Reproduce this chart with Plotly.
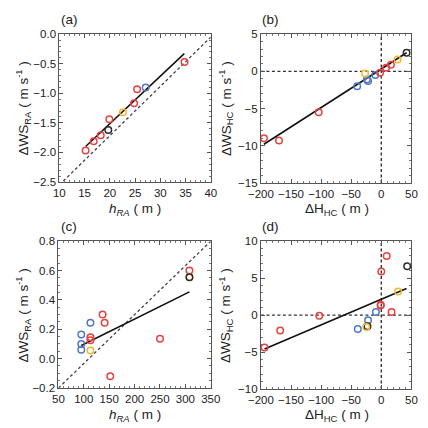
import plotly.graph_objects as go

RED = "#e8413f"
BLUE = "#4f78c4"
YEL = "#f2b731"
BLK = "#2a2a2a"

# Panel (a): h_RA vs dWS_RA
a_x = [15.2, 16.8, 18.2, 19.9, 24.8, 25.4, 34.8, 19.7, 22.6, 27.1]
a_y = [-1.97, -1.81, -1.71, -1.44, -1.17, -0.93, -0.47, -1.62, -1.32, -0.90]
a_c = ["r", "r", "r", "r", "r", "r", "r", "k", "y", "b"]
a_fit_x = [15.2, 34.75]
a_fit_y = [-1.90, -0.33]
a_ref_x = [10, 40]
a_ref_y = [-2.55, -0.05]

# Panel (b): dH_HC vs dWS_HC
b_x = [-195, -170, -104, -40, -24, -22, -10, -2, 8, 16, -27, 27, 42]
b_y = [-9.0, -9.3, -5.5, -2.0, -1.1, -1.3, -0.5, -0.2, 0.5, 0.9, -0.3, 1.6, 2.5]
b_c = ["r", "r", "r", "b", "b", "b", "b", "r", "r", "r", "y", "y", "k"]
b_fit_x = [-195, 42]
b_fit_y = [-9.8, 2.5]

# Panel (c): h_RA vs dWS_RA
c_x = [95, 95, 95, 113, 113, 113, 137, 141, 152, 250, 308, 113, 308, 308]
c_y = [0.165, 0.10, 0.06, 0.245, 0.145, 0.125, 0.30, 0.245, -0.12, 0.135, 0.60, 0.055, 0.555, 0.555]
c_c = ["b", "b", "b", "b", "r", "r", "r", "r", "r", "r", "r", "y", "y", "k"]
c_fit_x = [95, 308]
c_fit_y = [0.09, 0.455]
c_ref_x = [50, 350]
c_ref_y = [-0.2, 0.8]

# Panel (d): dH_HC vs dWS_HC
d_x = [-194, -168, -103, -39, -22, -9, -1, -1, 0, 9, 17, -23, -25, 28, 43]
d_y = [-4.4, -2.1, -0.1, -1.9, -0.7, 0.4, 1.3, 1.4, 5.9, 8.0, 0.4, -1.5, -1.6, 3.2, 6.6]
d_c = ["r", "r", "r", "b", "b", "b", "r", "r", "r", "r", "r", "k", "y", "y", "k"]
d_fit_x = [-194, 42]
d_fit_y = [-4.6, 3.6]

COL = {"r": RED, "b": BLUE, "y": YEL, "k": BLK}

fig = go.Figure()
DASH = "3px,2.5px"

def add_panel(n, xs, ys, cs, fx, fy, refx=None, refy=None, xr=None, yr=None):
    xa = "x" if n == 1 else f"x{n}"
    ya = "y" if n == 1 else f"y{n}"
    if refx is not None:
        fig.add_trace(go.Scatter(x=refx, y=refy, mode="lines", xaxis=xa, yaxis=ya,
                                 line=dict(color="#444", width=1.3, dash=DASH), showlegend=False))
    else:
        fig.add_trace(go.Scatter(x=[0, 0], y=yr, mode="lines", xaxis=xa, yaxis=ya,
                                 line=dict(color="#333", width=1.4, dash=DASH), showlegend=False))
        fig.add_trace(go.Scatter(x=xr, y=[0, 0], mode="lines", xaxis=xa, yaxis=ya,
                                 line=dict(color="#333", width=1.4, dash=DASH), showlegend=False))
    fig.add_trace(go.Scatter(x=fx, y=fy, mode="lines", xaxis=xa, yaxis=ya,
                             line=dict(color="#111", width=1.6), showlegend=False))
    fig.add_trace(go.Scatter(x=xs, y=ys, mode="markers", xaxis=xa, yaxis=ya, showlegend=False,
                             marker=dict(symbol="circle-open", size=6.5,
                                         color=[COL[c] for c in cs],
                                         line=dict(width=1.5, color=[COL[c] for c in cs]))))

add_panel(1, a_x, a_y, a_c, a_fit_x, a_fit_y, a_ref_x, a_ref_y)
add_panel(2, b_x, b_y, b_c, b_fit_x, b_fit_y, xr=[-200, 50], yr=[-15, 5])
add_panel(3, c_x, c_y, c_c, c_fit_x, c_fit_y, c_ref_x, c_ref_y)
add_panel(4, d_x, d_y, d_c, d_fit_x, d_fit_y, xr=[-200, 50], yr=[-10, 10])

W = 428
def px(v):
    return v / W
def py(v):
    return 1 - v / W

font = dict(family="Liberation Sans, Arial, sans-serif", size=11.5, color="#222")

def axis(dom, rng, dtick, minor, anchor, fmt=None):
    d = dict(domain=dom, range=rng, dtick=dtick, tick0=rng[0], showgrid=False, zeroline=False,
             showline=True, linecolor="#555", linewidth=1, mirror="ticks", ticks="inside",
             ticklen=4, tickcolor="#555", anchor=anchor, tickfont=font,
             minor=dict(ticks="inside", ticklen=2, dtick=minor, tickcolor="#777"))
    if fmt:
        d["tickformat"] = fmt
    return d

fig.update_layout(
    width=428, height=428, margin=dict(l=0, r=0, t=0, b=0),
    paper_bgcolor="white", plot_bgcolor="white",
    xaxis=axis([px(49), px(209)], [10, 40], 5, 1, "y"),
    yaxis=axis([py(181), py(29)], [-2.5, 0], 0.5, 0.1, "x", ".1f"),
    xaxis2=axis([px(262), px(421)], [-200, 50], 50, 10, "y2"),
    yaxis2=axis([py(182), py(29)], [-15, 5], 5, 1, "x2"),
    xaxis3=axis([px(48), px(209)], [50, 350], 50, 10, "y3"),
    yaxis3=axis([py(393), py(242)], [-0.2, 0.8], 0.2, 0.05, "x3", ".1f"),
    xaxis4=axis([px(262), px(421)], [-200, 50], 50, 10, "y4"),
    yaxis4=axis([py(394), py(242)], [-10, 10], 5, 1, "x4"),
)

tf = dict(family="Liberation Sans, Arial, sans-serif", size=13.5, color="#222")
ann = []
for lab, x, y in [("(a)", 49, 14), ("(b)", 261, 14), ("(c)", 49, 227), ("(d)", 261, 227)]:
    ann.append(dict(text=lab, x=px(x), y=py(y), xref="paper", yref="paper", showarrow=False,
                    xanchor="left", yanchor="middle", font=tf))
for text, x, y in [("<i>h</i><sub><i>RA</i></sub> ( m )", 129, 209),
                   ("ΔH<sub>HC</sub> ( m )", 342, 209),
                   ("<i>h</i><sub><i>RA</i></sub> ( m )", 129, 421),
                   ("ΔH<sub>HC</sub> ( m )", 342, 421)]:
    ann.append(dict(text=text, x=px(x), y=py(y), xref="paper", yref="paper", showarrow=False,
                    xanchor="center", yanchor="middle", font=tf))
for text, x, y in [("ΔWS<sub>RA</sub> ( m s<sup>-1</sup> )", 11, 105),
                   ("ΔWS<sub>HC</sub> ( m s<sup>-1</sup> )", 225, 105),
                   ("ΔWS<sub>RA</sub> ( m s<sup>-1</sup> )", 11, 318),
                   ("ΔWS<sub>HC</sub> ( m s<sup>-1</sup> )", 225, 318)]:
    ann.append(dict(text=text, x=px(x), y=py(y), xref="paper", yref="paper", showarrow=False,
                    xanchor="center", yanchor="middle", textangle=-90, font=tf))
fig.update_layout(annotations=ann)

fig.write_html("out.html")
